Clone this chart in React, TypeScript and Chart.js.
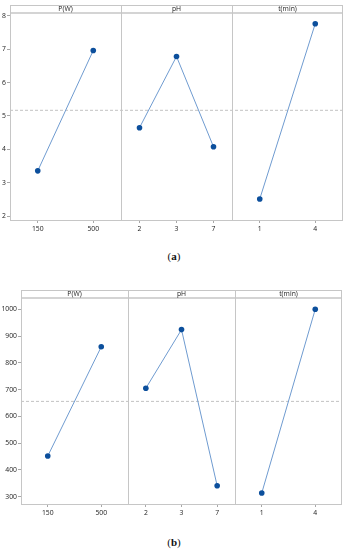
import React, { useEffect, useRef } from "react";
import { Chart, registerables } from "chart.js";

Chart.register(...registerables);

// ---- data ----
const FACETS = ["P(W)", "pH", "t(min)"];
const P_LEVELS = ["150", "500"];
const PH_LEVELS = ["2", "3", "7"];
const T_LEVELS = ["1", "4"];

const A_P = [3.36, 6.96];
const A_PH = [4.65, 6.78, 4.08];
const A_T = [2.52, 7.76];
const A_MEAN = 5.17;

const B_P = [452, 860];
const B_PH = [705, 924, 341];
const B_T = [314, 1000];
const B_MEAN = 656;

const FONT = '"Open Sans", "Noto Sans", "DejaVu Sans", sans-serif';
const FRAME = "#c6c6c6";
const TICK_COLOR = "#222";
const POINT = "#0c4f9c";
const LINE = "#6f9bd0";

const facetPlugin = {
  id: "facets",
  beforeDatasetsDraw(chart: any, _args: any, opts: any) {
    const { ctx, chartArea } = chart;
    const y = chart.scales.y;
    const my = y.getPixelForValue(opts.mean);
    ctx.save();
    ctx.strokeStyle = "#b4b4b4";
    ctx.lineWidth = 0.8;
    ctx.setLineDash([3, 2]);
    ctx.beginPath();
    ctx.moveTo(chartArea.left, my);
    ctx.lineTo(chartArea.right, my);
    ctx.stroke();
    ctx.restore();
  },
  afterDraw(chart: any, _args: any, opts: any) {
    const { ctx, chartArea } = chart;
    const { left, right, top, bottom } = chartArea;
    const hTop = top - opts.headerHeight;
    ctx.save();
    ctx.strokeStyle = FRAME;
    ctx.lineWidth = 1;
    ctx.strokeRect(left + 0.5, hTop + 0.5, right - left - 1, bottom - hTop);
    ctx.lineWidth = 1.5;
    ctx.beginPath();
    ctx.moveTo(left, top);
    ctx.lineTo(right, top);
    ctx.stroke();
    ctx.lineWidth = 1;
    const ids = ["x0", "x1", "x2"];
    ids.forEach((id, i) => {
      const s = chart.scales[id];
      if (i < ids.length - 1) {
        ctx.beginPath();
        ctx.moveTo(Math.round(s.right) + 0.5, hTop);
        ctx.lineTo(Math.round(s.right) + 0.5, bottom);
        ctx.stroke();
      }
      ctx.fillStyle = "#222";
      ctx.font = `6.8px ${FONT}`;
      ctx.textAlign = "center";
      ctx.textBaseline = "middle";
      ctx.fillText(opts.titles[i], (s.left + s.right) / 2, hTop + opts.headerHeight / 2 + 0.5);
    });
    ctx.restore();
  },
};

function xScale(labels: string[], height: number) {
  return {
    type: "category",
    labels,
    position: "bottom",
    stack: "facets",
    stackWeight: 1,
    offset: true,
    grid: { drawOnChartArea: false, drawTicks: true, tickLength: 3, color: "#a8a8a8" },
    border: { display: false },
    ticks: { font: { size: 6.8, family: FONT }, color: TICK_COLOR, padding: 2, maxRotation: 0, autoSkip: false },
    afterFit: (s: any) => {
      s.height = height;
    },
  };
}

function lineDs(data: number[], xAxisID: string) {
  return {
    data,
    xAxisID,
    yAxisID: "y",
    borderColor: LINE,
    borderWidth: 1,
    pointRadius: 2.8,
    pointBackgroundColor: POINT,
    pointBorderColor: POINT,
    pointBorderWidth: 0,
    tension: 0,
    fill: false,
  };
}

function buildConfig(p: number[], ph: number[], t: number[], mean: number, yMin: number, yMax: number, step: number, yWidth: number, padTop: number, padRight: number, headerH: number): any {
  return {
    type: "line",
    data: {
      datasets: [lineDs(p, "x0"), lineDs(ph, "x1"), lineDs(t, "x2")],
    },
    plugins: [facetPlugin],
    options: {
      animation: false,
      responsive: false,
      maintainAspectRatio: false,
      layout: { padding: { top: padTop, right: padRight, left: 0, bottom: 0 } },
      plugins: {
        legend: { display: false },
        tooltip: { enabled: false },
        facets: { mean, headerHeight: headerH, titles: FACETS },
      },
      scales: {
        x0: xScale(P_LEVELS, 20),
        x1: xScale(PH_LEVELS, 20),
        x2: xScale(T_LEVELS, 20),
        y: {
          type: "linear",
          position: "left",
          min: yMin,
          max: yMax,
          grid: { drawOnChartArea: false, drawTicks: true, tickLength: 3, color: "#a8a8a8" },
          border: { display: false },
          ticks: {
            stepSize: step,
            includeBounds: false,
            font: { size: 6.8, family: FONT },
            color: TICK_COLOR,
            padding: 1,
            callback: (v: any) => String(v),
          },
          afterFit: (s: any) => {
            s.width = yWidth;
          },
        },
      },
    },
  };
}

function ChartCanvas({ config, top, height }: { config: any; top: number; height: number }) {
  const ref = useRef<HTMLCanvasElement | null>(null);
  useEffect(() => {
    if (!ref.current) return;
    const c = new Chart(ref.current, config);
    return () => c.destroy();
  }, []);
  return (
    <canvas
      ref={ref}
      width={348}
      height={height}
      style={{ position: "absolute", left: 0, top, width: 348, height }}
    />
  );
}

function Caption({ letter, top }: { letter: string; top: number }) {
  return (
    <div
      style={{
        position: "absolute",
        left: 0,
        width: 348,
        top,
        textAlign: "center",
        fontFamily: '"Liberation Serif", "Times New Roman", serif',
        fontSize: 11,
        lineHeight: "12px",
        color: "#111",
      }}
    >
      (<b>{letter}</b>)
    </div>
  );
}

export default function App() {
  const cfgA = buildConfig(A_P, A_PH, A_T, A_MEAN, 1.89, 8.08, 1, 10, 13, 5, 8);
  const cfgB = buildConfig(B_P, B_PH, B_T, B_MEAN, 273, 1042, 100, 21, 28, 6, 8);
  return (
    <div style={{ position: "absolute", left: 0, top: 0, width: 348, height: 550, background: "#fff" }}>
      <ChartCanvas config={cfgA} top={0} height={240} />
      <Caption letter="a" top={250} />
      <ChartCanvas config={cfgB} top={270} height={254} />
      <Caption letter="b" top={536} />
    </div>
  );
}
